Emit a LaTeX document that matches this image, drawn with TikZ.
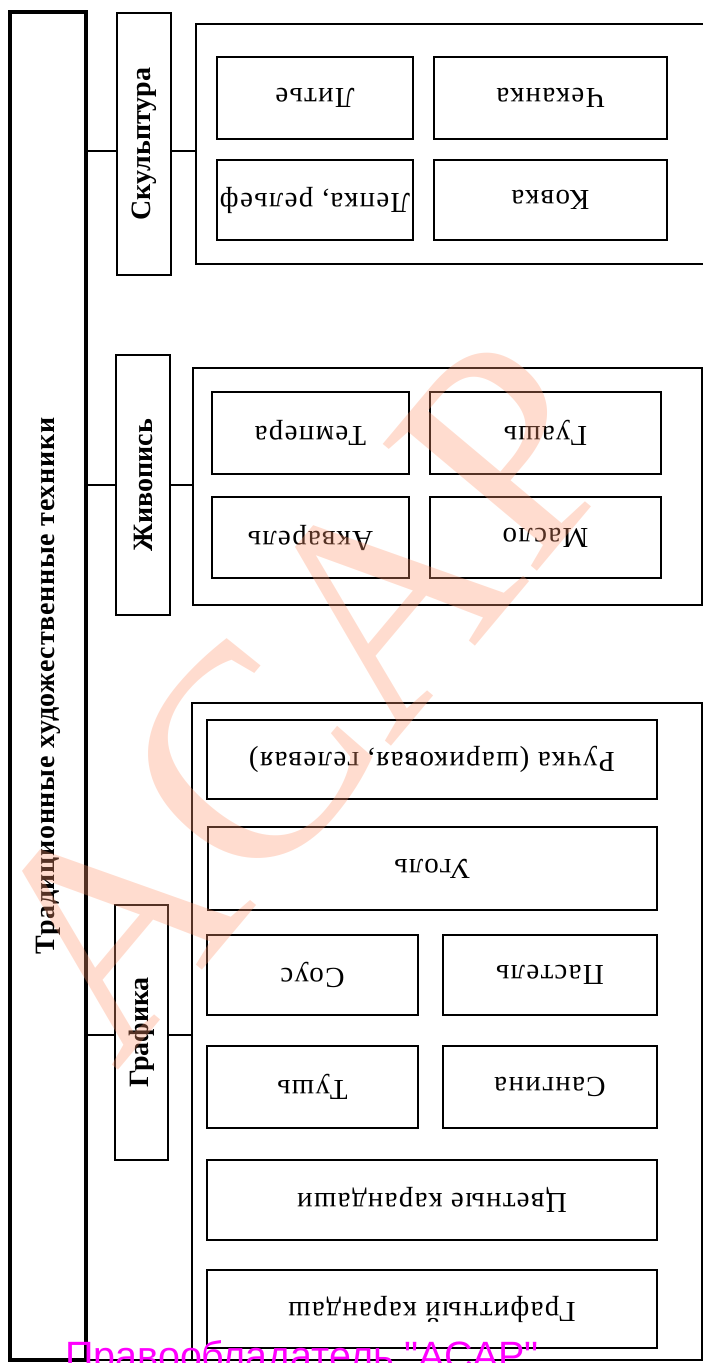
\documentclass[tikz,border=0pt]{standalone}
\usepackage{fontspec}
\setmainfont{Liberation Serif}
\newfontfamily\wmsans{Liberation Sans}
\newfontfamily\cellfont[LetterSpace=4.5]{Liberation Serif}
\newfontfamily\titlefont[LetterSpace=2.5]{Liberation Serif}
\definecolor{wmcol}{RGB}{255,150,110}
\definecolor{mag}{RGB}{255,0,255}
\tikzset{
  frame/.style={draw, line width=2.8pt, inner sep=0pt, outer sep=0pt},
  cell/.style={frame, font=\cellfont\fontsize{29}{29}\selectfont},
  cat/.style={frame, font=\bfseries\fontsize{28}{28}\selectfont},
  grp/.style={draw, line width=2.6pt, inner sep=0pt, outer sep=0pt},
  link/.style={line width=2.6pt}
}
\newcommand{\upd}[1]{\rotatebox{180}{#1}}
\newcommand{\vup}[1]{\rotatebox{90}{#1}}
\begin{document}
\begin{tikzpicture}[x=1pt,y=-1pt]
\useasboundingbox (0,0) rectangle (703,1363);
\clip (0,0) rectangle (703,1363);
% main box
\node[frame, line width=3.2pt, minimum width=76pt, minimum height=1348pt, font=\titlefont\bfseries\fontsize{28}{28}\selectfont] (main) at (48,686) {\vup{Традиционные художественные техники}};
% categories
\node[cat, minimum width=54pt, minimum height=262pt] (sc) at (144,144) {\vup{Скульптура}};
\node[cat, minimum width=54pt, minimum height=260pt] (zh) at (143,485) {\vup{Живопись}};
\node[cat, minimum width=53pt, minimum height=255pt] (gr) at (141.5,1032.5) {\vup{Графика}};
% group frames
\node[grp, minimum width=514pt, minimum height=240pt] (gsc) at (453,144) {};
\node[grp, minimum width=509pt, minimum height=237pt] (gzh) at (447.5,486.5) {};
\node[grp, minimum width=510pt, minimum height=657pt] (ggr) at (447,1031.5) {};
% bottom edge line between the frames
\draw[link] (main.south east) -- (ggr.south west);
% connectors
\coordinate (ys) at (0,151);
\coordinate (yz) at (0,485);
\coordinate (yg) at (0,1035);
\draw[link] (main.east |- ys) -- (sc.west |- ys);
\draw[link] (sc.east |- ys) -- (gsc.west |- ys);
\draw[link] (main.east |- yz) -- (zh.west |- yz);
\draw[link] (zh.east |- yz) -- (gzh.west |- yz);
\draw[link] (main.east |- yg) -- (gr.west |- yg);
\draw[link] (gr.east |- yg) -- (ggr.west |- yg);
% sculpture
\node[cell, minimum width=196pt, minimum height=82pt] (lit) at (315,98) {\upd{Литье}};
\node[cell, minimum width=233pt, minimum height=82pt] (chek) at (550.5,98) {\upd{Чеканка}};
\node[cell, minimum width=196pt, minimum height=80pt] (lep) at (315,200) {\upd{Лепка, рельеф}};
\node[cell, minimum width=233pt, minimum height=80pt] (kov) at (550.5,200) {\upd{Ковка}};
% painting
\node[cell, minimum width=197pt, minimum height=82pt] (temp) at (310.5,433) {\upd{Темпера}};
\node[cell, minimum width=231pt, minimum height=82pt] (gua) at (545.5,433) {\upd{Гуашь}};
\node[cell, minimum width=197pt, minimum height=81pt] (akv) at (310.5,537.5) {\upd{Акварель}};
\node[cell, minimum width=231pt, minimum height=81pt] (mas) at (545.5,537.5) {\upd{Масло}};
% graphics
\node[cell, minimum width=450pt, minimum height=79pt] (ruch) at (432,759.5) {\upd{Ручка (шариковая, гелевая)}};
\node[cell, minimum width=449pt, minimum height=83pt] (ugol) at (432.5,868.5) {\upd{Уголь}};
\node[cell, minimum width=211pt, minimum height=80pt] (sous) at (312.5,975) {\upd{Соус}};
\node[cell, minimum width=214pt, minimum height=80pt] (past) at (550,975) {\upd{Пастель}};
\node[cell, minimum width=211pt, minimum height=82pt] (tush) at (312.5,1087) {\upd{Тушь}};
\node[cell, minimum width=214pt, minimum height=82pt] (sang) at (550,1087) {\upd{Сангина}};
\node[cell, minimum width=450pt, minimum height=80pt] (cvet) at (432,1200) {\upd{Цветные карандаши}};
\node[cell, minimum width=450pt, minimum height=78pt] (graf) at (432,1309) {\upd{Графитный карандаш}};
% watermark
\node[rotate=50, text=wmcol, opacity=0.33, inner sep=0pt, font=\fontsize{305}{305}\selectfont] (wm) at (302,697) {ACAP};
\node[anchor=base west, inner sep=0pt, text=mag, font=\wmsans\fontsize{39.5}{39.5}\selectfont] (owner) at (65,1369) {Правообладатель "АСАР"};
\end{tikzpicture}
\end{document}
